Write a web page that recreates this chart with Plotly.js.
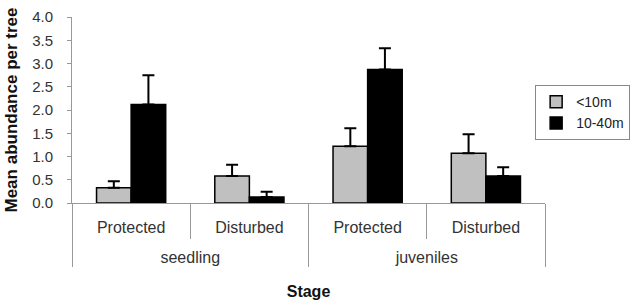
<!DOCTYPE html>
<html>
<head>
<script src="https://cdn.plot.ly/plotly-3.0.1.min.js"></script>
<style>html,body{margin:0;padding:0;background:#fff;}#chart{width:643px;height:304px;}</style>
</head>
<body>
<div id="chart"></div>
<script>
var stages = ["seedling", "seedling", "juveniles", "juveniles"];
var sites = ["Protected", "Disturbed", "Protected", "Disturbed"];
var seriesNames = ["<10m", "10-40m"];
var near = [0.33, 0.58, 1.22, 1.07];
var nearErr = [0.14, 0.24, 0.39, 0.41];
var far = [2.12, 0.13, 2.87, 0.58];
var farErr = [0.63, 0.11, 0.46, 0.19];
var yTicks = [0, 0.5, 1, 1.5, 2, 2.5, 3, 3.5, 4];
var yTickText = ["0.0", "0.5", "1.0", "1.5", "2.0", "2.5", "3.0", "3.5", "4.0"];

var font = "Liberation Sans, Arial, sans-serif";
// second-level labels get a blank first line so they sit lower, as in the original
var stageLabels = stages.map(function (s) { return "<br>" + s; });
function bar(name, y, err, color) {
  return {
    type: "bar", name: name, x: [stageLabels, sites], y: y,
    marker: {color: color, line: {color: "#000", width: 1.5}},
    error_y: {type: "data", array: err, arrayminus: err.map(function(){return 0;}),
              symmetric: false, color: "#000", thickness: 2, width: 6}
  };
}
var data = [bar(seriesNames[0], near, nearErr, "#c0c0c0"), bar(seriesNames[1], far, farErr, "#000000")];
var layout = {
  width: 643, height: 304,
  margin: {l: 72, r: 98, t: 17, b: 101},
  paper_bgcolor: "#fff", plot_bgcolor: "#fff",
  font: {family: font, color: "#333", size: 15},
  barmode: "group", bargap: 0.415, bargroupgap: 0,
  showlegend: true,
  legend: {x: 1.18, y: 0.634, xanchor: "right", yanchor: "top",
           bordercolor: "#888", borderwidth: 1, font: {size: 14, color: "#222"},
           tracegroupgap: 0, itemwidth: 30},
  xaxis: {type: "multicategory", showline: true, linecolor: "#999", linewidth: 1,
          ticks: "outside", ticklen: 35, tickcolor: "#999", tickwidth: 1,
          ticklabelstandoff: 10,
          showdividers: true, dividercolor: "#999", dividerwidth: 1,
          tickfont: {size: 16, color: "#333"}, showgrid: false, zeroline: false,
          title: {text: "<b>Stage</b>", font: {size: 16, color: "#111"}, standoff: 20}},
  yaxis: {range: [0, 4], tickvals: yTicks, ticktext: yTickText,
          showline: true, linecolor: "#999", linewidth: 1, ticks: "outside", ticklen: 4,
          tickcolor: "#999", showgrid: false, zeroline: false, ticklabelstandoff: 11,
          tickfont: {size: 15, color: "#333"},
          title: {text: "<b>Mean abundance per tree</b>", font: {size: 17, color: "#111"}, standoff: 10}}
};
Plotly.newPlot("chart", data, layout, {displayModeBar: false, staticPlot: true});
</script>
</body>
</html>
